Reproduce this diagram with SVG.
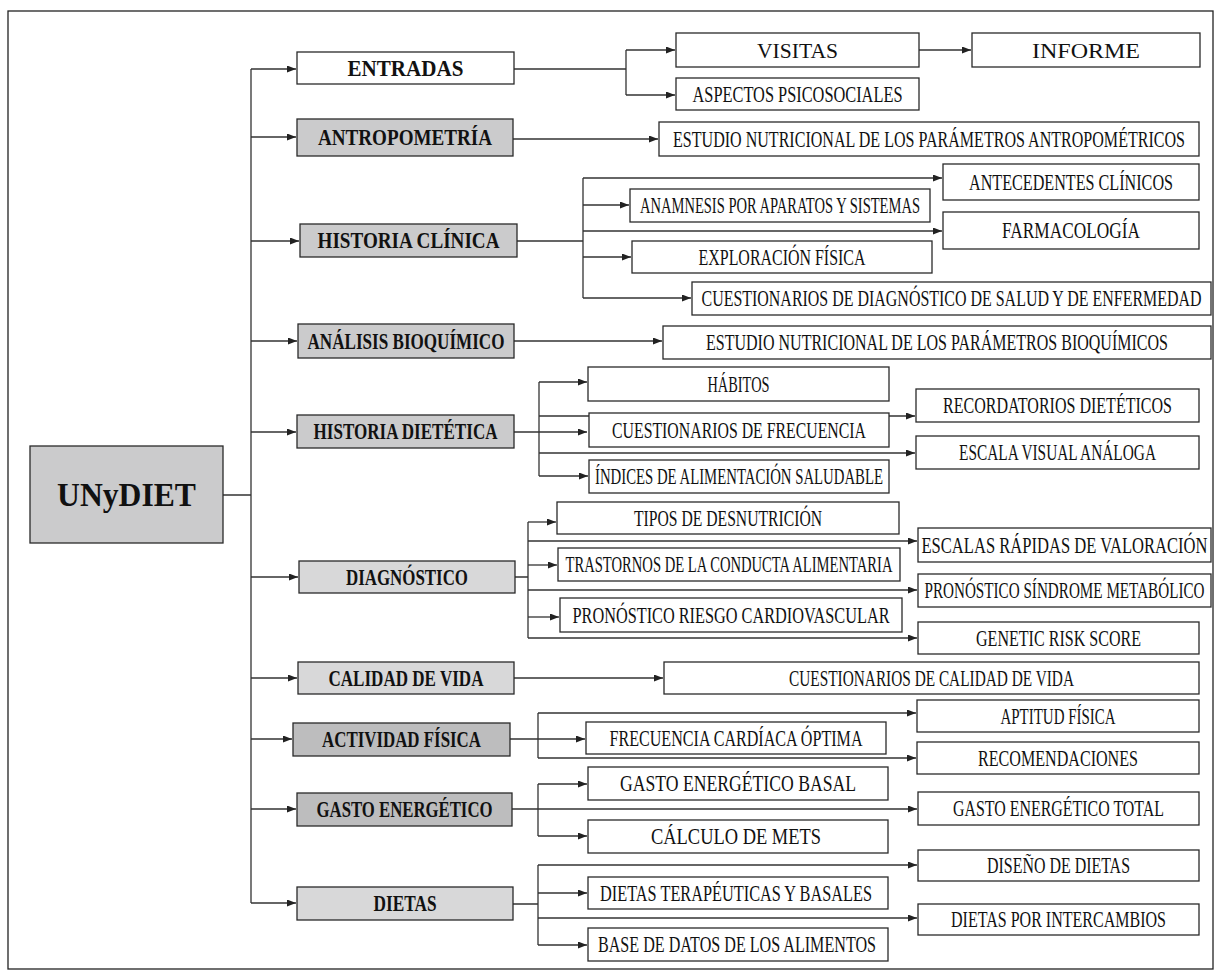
<svg xmlns="http://www.w3.org/2000/svg" width="1219" height="975" viewBox="0 0 1219 975">
<defs>
<marker id="ah" markerWidth="9" markerHeight="7" refX="9" refY="3.5" orient="auto" markerUnits="userSpaceOnUse"><path d="M0,0 L9,3.5 L0,7 z" fill="#222"/></marker>
<style>
.bx{fill:#fff;stroke:#2a2a2a;stroke-width:1.3}
.g1{fill:#cbcbcc}.g2{fill:#d8d8d9}.g3{fill:#bdbdbe}
.t0{font-family:"Liberation Serif",serif;font-weight:bold;font-size:33px;text-anchor:middle;fill:#111}
.t1{font-family:"Liberation Serif",serif;font-weight:bold;font-size:23px;text-anchor:middle;fill:#111}
.t2{font-family:"Liberation Serif",serif;font-size:22.5px;text-anchor:middle;fill:#111}
.t3{font-family:"Liberation Serif",serif;font-size:22px;text-anchor:middle;fill:#111}
.c{stroke:#333;stroke-width:1.3;fill:none}
.a{stroke:#333;stroke-width:1.3;fill:none;marker-end:url(#ah)}
</style>
</defs>
<rect width="1219" height="975" fill="#fff"/>
<rect x="8" y="11" width="1205" height="958" fill="none" stroke="#222" stroke-width="1.3"/>

<g id="connectors">
<path class="c" d="M223,495 H251 M251,69 V903"/>
<path class="a" d="M251,69 H296"/><path class="a" d="M251,137 H296"/><path class="a" d="M251,241 H299"/><path class="a" d="M251,341 H297"/><path class="a" d="M251,432 H296"/><path class="a" d="M251,577 H298"/><path class="a" d="M251,678 H297"/><path class="a" d="M251,739 H292"/><path class="a" d="M251,809 H296"/><path class="a" d="M251,903 H296"/>
<path class="c" d="M514,69 H626 M626,50 V95"/>
<path class="a" d="M626,50 H675"/><path class="a" d="M626,95 H675"/><path class="a" d="M919,50 H971"/>
<path class="a" d="M513,139 H658"/>
<path class="c" d="M517,241 H583 M583,178 V298"/>
<path class="a" d="M583,178 H942"/><path class="a" d="M583,205 H629"/><path class="a" d="M583,231 H942"/><path class="a" d="M583,257 H631"/><path class="a" d="M583,298 H691"/>
<path class="a" d="M514,341 H662"/>
<path class="c" d="M539,382 V476"/>
<path class="a" d="M513,432 H587"/><path class="a" d="M539,382 H587"/><path class="a" d="M539,416 H915"/><path class="a" d="M539,453 H915"/><path class="a" d="M539,476 H588"/>
<path class="c" d="M515,577 H528 M528,522 V638"/>
<path class="a" d="M528,522 H556"/><path class="a" d="M528,541 H917"/><path class="a" d="M528,565 H557"/><path class="a" d="M528,590 H917"/><path class="a" d="M528,617 H559"/><path class="a" d="M528,638 H917"/>
<path class="a" d="M514,678 H663"/>
<path class="c" d="M538,713 V758"/>
<path class="a" d="M510,739 H585"/><path class="a" d="M538,713 H916"/><path class="a" d="M538,758 H916"/>
<path class="c" d="M538,784 V836"/>
<path class="a" d="M512,809 H917"/><path class="a" d="M538,784 H587"/><path class="a" d="M538,836 H587"/>
<path class="c" d="M513,904 H538 M538,865 V945"/>
<path class="a" d="M538,865 H917"/><path class="a" d="M538,893 H587"/><path class="a" d="M538,918 H917"/><path class="a" d="M538,945 H587"/>
</g>

<g id="unydiet"><rect class="bx g1" x="30" y="446" width="193" height="97"/><text class="t0" transform="matrix(0.85 0 0 1 126.5 506)" textLength="163.5" lengthAdjust="spacingAndGlyphs">UNyDIET</text></g>

<g id="entradas"><rect class="bx" x="297" y="52" width="217" height="32"/><text class="t1" transform="matrix(0.7 0 0 1 405.5 76)" textLength="165.7" lengthAdjust="spacingAndGlyphs">ENTRADAS</text></g>
<g id="antropometria"><rect class="bx g1" x="297" y="119" width="216" height="37"/><text class="t1" transform="matrix(0.7 0 0 1 405 145)" textLength="248.6" lengthAdjust="spacingAndGlyphs">ANTROPOMETRÍA</text></g>
<g id="historia-clinica"><rect class="bx g1" x="300" y="224" width="217" height="33"/><text class="t1" transform="matrix(0.7 0 0 1 408.5 248)" textLength="260" lengthAdjust="spacingAndGlyphs">HISTORIA CLÍNICA</text></g>
<g id="analisis"><rect class="bx g1" x="298" y="324" width="216" height="34"/><text class="t1" transform="matrix(0.7 0 0 1 406 349)" textLength="281.4" lengthAdjust="spacingAndGlyphs">ANÁLISIS BIOQUÍMICO</text></g>
<g id="historia-dietetica"><rect class="bx g1" x="297" y="415" width="217" height="33"/><text class="t1" transform="matrix(0.7 0 0 1 405.5 439)" textLength="262.9" lengthAdjust="spacingAndGlyphs">HISTORIA DIETÉTICA</text></g>
<g id="diagnostico"><rect class="bx g2" x="299" y="561" width="216" height="32"/><text class="t1" transform="matrix(0.7 0 0 1 407 585)" textLength="174.3" lengthAdjust="spacingAndGlyphs">DIAGNÓSTICO</text></g>
<g id="calidad"><rect class="bx g2" x="298" y="662" width="216" height="32"/><text class="t1" transform="matrix(0.7 0 0 1 406 686)" textLength="221.4" lengthAdjust="spacingAndGlyphs">CALIDAD DE VIDA</text></g>
<g id="actividad"><rect class="bx g3" x="293" y="723" width="217" height="33"/><text class="t1" transform="matrix(0.7 0 0 1 401.5 747)" textLength="227.1" lengthAdjust="spacingAndGlyphs">ACTIVIDAD FÍSICA</text></g>
<g id="gasto"><rect class="bx g3" x="297" y="793" width="215" height="33"/><text class="t1" transform="matrix(0.7 0 0 1 404.5 817)" textLength="251.4" lengthAdjust="spacingAndGlyphs">GASTO ENERGÉTICO</text></g>
<g id="dietas"><rect class="bx g2" x="297" y="887" width="216" height="33"/><text class="t1" transform="matrix(0.7 0 0 1 405 911)" textLength="90" lengthAdjust="spacingAndGlyphs">DIETAS</text></g>

<g id="visitas"><rect class="bx" x="676" y="33" width="243" height="34"/><text class="t3" transform="matrix(0.85 0 0 1 797.5 57.5)" textLength="95.3" lengthAdjust="spacingAndGlyphs">VISITAS</text></g>
<g id="informe"><rect class="bx" x="972" y="33" width="228" height="34"/><text class="t3" transform="matrix(0.85 0 0 1 1086 57.5)" textLength="127.1" lengthAdjust="spacingAndGlyphs">INFORME</text></g>
<g id="aspectos"><rect class="bx" x="676" y="78" width="243" height="32"/><text class="t2" transform="matrix(0.64 0 0 1 797.5 101.5)" textLength="328.1" lengthAdjust="spacingAndGlyphs">ASPECTOS PSICOSOCIALES</text></g>
<g id="estudio-antropo"><rect class="bx" x="659" y="122" width="540" height="34"/><text class="t2" transform="matrix(0.64 0 0 1 929 146.5)" textLength="800" lengthAdjust="spacingAndGlyphs">ESTUDIO NUTRICIONAL DE LOS PARÁMETROS ANTROPOMÉTRICOS</text></g>
<g id="antecedentes"><rect class="bx" x="943" y="164" width="256" height="36"/><text class="t2" transform="matrix(0.64 0 0 1 1071 189.5)" textLength="318.8" lengthAdjust="spacingAndGlyphs">ANTECEDENTES CLÍNICOS</text></g>
<g id="anamnesis"><rect class="bx" x="630" y="189" width="300" height="33"/><text class="t2" transform="matrix(0.64 0 0 1 780 213)" textLength="437.5" lengthAdjust="spacingAndGlyphs">ANAMNESIS POR APARATOS Y SISTEMAS</text></g>
<g id="farmacologia"><rect class="bx" x="943" y="212" width="256" height="37"/><text class="t2" transform="matrix(0.64 0 0 1 1071 238)" textLength="215.6" lengthAdjust="spacingAndGlyphs">FARMACOLOGÍA</text></g>
<g id="exploracion"><rect class="bx" x="632" y="241" width="300" height="32"/><text class="t2" transform="matrix(0.64 0 0 1 782 264.5)" textLength="260.9" lengthAdjust="spacingAndGlyphs">EXPLORACIÓN FÍSICA</text></g>
<g id="cuestionarios-diag"><rect class="bx" x="692" y="282" width="519" height="33"/><text class="t2" transform="matrix(0.64 0 0 1 951.5 306)" textLength="781.3" lengthAdjust="spacingAndGlyphs">CUESTIONARIOS DE DIAGNÓSTICO DE SALUD Y DE ENFERMEDAD</text></g>
<g id="estudio-bio"><rect class="bx" x="663" y="326" width="548" height="33"/><text class="t2" transform="matrix(0.64 0 0 1 937 350)" textLength="721.9" lengthAdjust="spacingAndGlyphs">ESTUDIO NUTRICIONAL DE LOS PARÁMETROS BIOQUÍMICOS</text></g>
<g id="habitos"><rect class="bx" x="588" y="367" width="301" height="34"/><text class="t2" transform="matrix(0.64 0 0 1 738.5 391.5)" textLength="96.9" lengthAdjust="spacingAndGlyphs">HÁBITOS</text></g>
<g id="cuest-frec"><rect class="bx" x="589" y="413" width="300" height="34"/><text class="t2" transform="matrix(0.64 0 0 1 739 437.5)" textLength="396.9" lengthAdjust="spacingAndGlyphs">CUESTIONARIOS DE FRECUENCIA</text></g>
<g id="indices"><rect class="bx" x="589" y="460" width="300" height="33"/><text class="t2" transform="matrix(0.64 0 0 1 739 484)" textLength="450" lengthAdjust="spacingAndGlyphs">ÍNDICES DE ALIMENTACIÓN SALUDABLE</text></g>
<g id="recordatorios"><rect class="bx" x="916" y="389" width="283" height="33"/><text class="t2" transform="matrix(0.64 0 0 1 1057.5 413)" textLength="357.8" lengthAdjust="spacingAndGlyphs">RECORDATORIOS DIETÉTICOS</text></g>
<g id="escala-visual"><rect class="bx" x="916" y="436" width="283" height="33"/><text class="t2" transform="matrix(0.64 0 0 1 1057.5 460)" textLength="307.8" lengthAdjust="spacingAndGlyphs">ESCALA VISUAL ANÁLOGA</text></g>
<g id="tipos"><rect class="bx" x="557" y="502" width="342" height="32"/><text class="t2" transform="matrix(0.64 0 0 1 728 525.5)" textLength="293.8" lengthAdjust="spacingAndGlyphs">TIPOS DE DESNUTRICIÓN</text></g>
<g id="trastornos"><rect class="bx" x="558" y="548" width="342" height="33"/><text class="t2" transform="matrix(0.64 0 0 1 729 572)" textLength="510.9" lengthAdjust="spacingAndGlyphs">TRASTORNOS DE LA CONDUCTA ALIMENTARIA</text></g>
<g id="pron-riesgo"><rect class="bx" x="560" y="598" width="342" height="34"/><text class="t2" transform="matrix(0.64 0 0 1 731 622.5)" textLength="495.3" lengthAdjust="spacingAndGlyphs">PRONÓSTICO RIESGO CARDIOVASCULAR</text></g>
<g id="escalas-rapidas"><rect class="bx" x="918" y="528" width="293" height="34"/><text class="t2" transform="matrix(0.64 0 0 1 1064.5 552.5)" textLength="446.9" lengthAdjust="spacingAndGlyphs">ESCALAS RÁPIDAS DE VALORACIÓN</text></g>
<g id="pron-sindrome"><rect class="bx" x="918" y="574" width="293" height="33"/><text class="t2" transform="matrix(0.64 0 0 1 1064.5 598)" textLength="437.5" lengthAdjust="spacingAndGlyphs">PRONÓSTICO SÍNDROME METABÓLICO</text></g>
<g id="genetic"><rect class="bx" x="918" y="622" width="281" height="32"/><text class="t2" transform="matrix(0.64 0 0 1 1058.5 645.5)" textLength="257.8" lengthAdjust="spacingAndGlyphs">GENETIC RISK SCORE</text></g>
<g id="cuest-calidad"><rect class="bx" x="664" y="662" width="535" height="32"/><text class="t2" transform="matrix(0.64 0 0 1 931.5 685.5)" textLength="445.3" lengthAdjust="spacingAndGlyphs">CUESTIONARIOS DE CALIDAD DE VIDA</text></g>
<g id="frecuencia"><rect class="bx" x="586" y="722" width="300" height="32"/><text class="t2" transform="matrix(0.64 0 0 1 736 745.5)" textLength="395.3" lengthAdjust="spacingAndGlyphs">FRECUENCIA CARDÍACA ÓPTIMA</text></g>
<g id="aptitud"><rect class="bx" x="917" y="700" width="282" height="32"/><text class="t2" transform="matrix(0.64 0 0 1 1058 723.5)" textLength="179.7" lengthAdjust="spacingAndGlyphs">APTITUD FÍSICA</text></g>
<g id="recomendaciones"><rect class="bx" x="917" y="742" width="282" height="32"/><text class="t2" transform="matrix(0.64 0 0 1 1058 765.5)" textLength="250" lengthAdjust="spacingAndGlyphs">RECOMENDACIONES</text></g>
<g id="gasto-basal"><rect class="bx" x="588" y="767" width="300" height="33"/><text class="t2" transform="matrix(0.64 0 0 1 738 791)" textLength="368.8" lengthAdjust="spacingAndGlyphs">GASTO ENERGÉTICO BASAL</text></g>
<g id="gasto-total"><rect class="bx" x="918" y="792" width="281" height="33"/><text class="t2" transform="matrix(0.64 0 0 1 1058.5 816)" textLength="329.7" lengthAdjust="spacingAndGlyphs">GASTO ENERGÉTICO TOTAL</text></g>
<g id="calculo"><rect class="bx" x="588" y="820" width="300" height="33"/><text class="t2" transform="matrix(0.64 0 0 1 736 844)" textLength="265.6" lengthAdjust="spacingAndGlyphs">CÁLCULO DE METS</text></g>
<g id="diseno"><rect class="bx" x="918" y="850" width="281" height="31"/><text class="t2" transform="matrix(0.64 0 0 1 1058.5 873)" textLength="223.4" lengthAdjust="spacingAndGlyphs">DISEÑO DE DIETAS</text></g>
<g id="terapeuticas"><rect class="bx" x="588" y="877" width="300" height="32"/><text class="t2" transform="matrix(0.64 0 0 1 736 900.5)" textLength="425" lengthAdjust="spacingAndGlyphs">DIETAS TERAPÉUTICAS Y BASALES</text></g>
<g id="intercambios"><rect class="bx" x="918" y="904" width="281" height="31"/><text class="t2" transform="matrix(0.64 0 0 1 1058.5 927)" textLength="335.9" lengthAdjust="spacingAndGlyphs">DIETAS POR INTERCAMBIOS</text></g>
<g id="base-datos"><rect class="bx" x="588" y="928" width="300" height="33"/><text class="t2" transform="matrix(0.64 0 0 1 737 952)" textLength="434.4" lengthAdjust="spacingAndGlyphs">BASE DE DATOS DE LOS ALIMENTOS</text></g>
</svg>
